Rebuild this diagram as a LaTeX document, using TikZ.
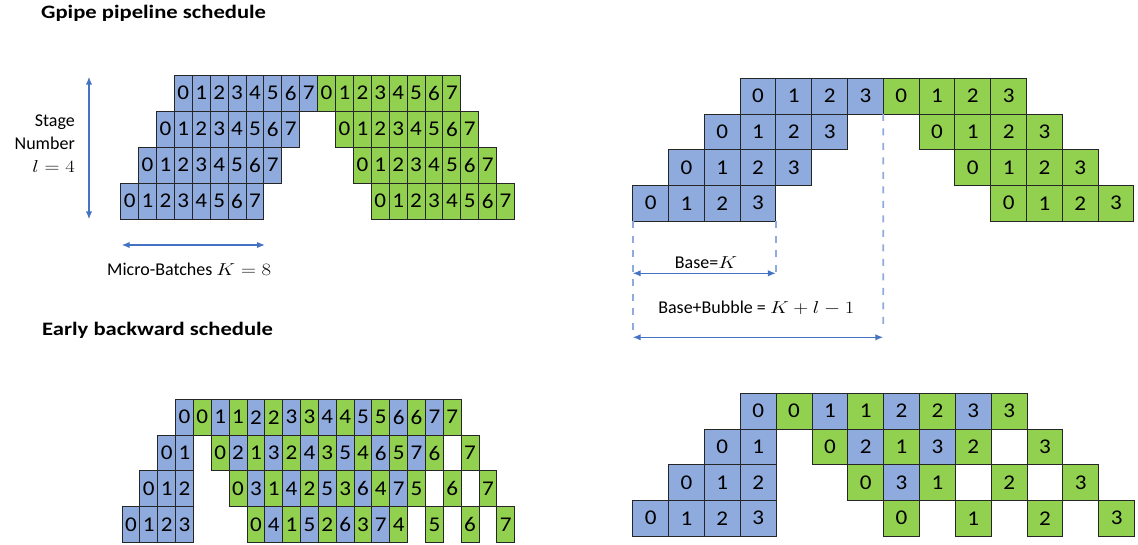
\documentclass[tikz,border=0pt]{standalone}
\usepackage{fontspec}
\setmainfont{Carlito}
\usetikzlibrary{arrows.meta}
\definecolor{cblue}{HTML}{8FAADC}
\definecolor{cgreen}{HTML}{92D050}
\definecolor{abl}{HTML}{4472C4}
\definecolor{dsh}{HTML}{8FAADC}
\newcommand\mth[1]{\scalebox{1.2}[1]{$#1$}}
\newcommand\dg[1]{\scalebox{1.1}[1]{#1}}
\newcommand\ttl[1]{\scalebox{1.19}[1]{#1}}
\tikzset{
  cell/.style={draw=black!85, line width=0.9pt, anchor=north west, inner sep=0pt, outer sep=0pt,
    font=\fontsize{21}{21}\selectfont},
  dimarrow/.style={abl, line width=1.5pt, {Latex[length=8pt,width=6.5pt]}-{Latex[length=8pt,width=6.5pt]}},
  dashline/.style={dsh, line width=1.8pt, dash pattern=on 7pt off 7.5pt},
  title/.style={font=\bfseries\fontsize{19}{19}\selectfont, anchor=base west, inner sep=0pt},
  lbl/.style={font=\fontsize{18}{23}\selectfont, inner sep=0pt}
}
% #1 prefix, #2 x0, #3 y0, #4 w, #5 h, #6 list col/row/colour/text
\newcommand\drawgrid[6]{%
  \foreach \c/\r/\k/\t in {#6}{%
    \node[cell, fill=\k, minimum width=#4pt, minimum height=#5pt] (#1-\r-\c) at ({#2+\c*#4},{#3+\r*#5}) {\dg{\t}};
  }}
\begin{document}
\begin{tikzpicture}[x=1pt,y=-1pt]
\useasboundingbox (0,0) rectangle (1138,545);

% titles
\node[title] (t1) at (41,19) {\ttl{Gpipe pipeline schedule}};
\node[title] (t2) at (42,336) {\ttl{Early backward schedule}};

% ---- Gpipe, K=8
\foreach \r in {0,...,3}{\foreach \j in {0,...,7}{%
  \pgfmathtruncatemacro\cb{3-\r+\j}%
  \pgfmathtruncatemacro\cg{11+\r+\j}%
  \node[cell, fill=cblue, minimum width=17.9pt, minimum height=36pt] (tl-\r-\cb) at ({120.7+\cb*17.9},{75+\r*36}) {\dg{\j}};
  \node[cell, fill=cgreen, minimum width=17.9pt, minimum height=36pt] (tl-\r-\cg) at ({120.7+\cg*17.9},{75+\r*36}) {\dg{\j}};
}}

% ---- Gpipe, K=4
\foreach \r in {0,...,3}{\foreach \j in {0,...,3}{%
  \pgfmathtruncatemacro\cb{3-\r+\j}%
  \pgfmathtruncatemacro\cg{7+\r+\j}%
  \node[cell, fill=cblue, minimum width=35.8pt, minimum height=35.7pt] (tr-\r-\cb) at ({632.7+\cb*35.8},{78.3+\r*35.7}) {\dg{\j}};
  \node[cell, fill=cgreen, minimum width=35.8pt, minimum height=35.7pt] (tr-\r-\cg) at ({632.7+\cg*35.8},{78.3+\r*35.7}) {\dg{\j}};
}}

% ---- Early backward, K=8
\drawgrid{bl}{122}{399.3}{17.85}{35.8}{
  3/0/cblue/0,4/0/cgreen/0,5/0/cblue/1,6/0/cgreen/1,7/0/cblue/2,8/0/cgreen/2,9/0/cblue/3,10/0/cgreen/3,
  11/0/cblue/4,12/0/cgreen/4,13/0/cblue/5,14/0/cgreen/5,15/0/cblue/6,16/0/cgreen/6,17/0/cblue/7,18/0/cgreen/7,
  2/1/cblue/0,3/1/cblue/1,5/1/cgreen/0,6/1/cblue/2,7/1/cgreen/1,8/1/cblue/3,9/1/cgreen/2,10/1/cblue/4,
  11/1/cgreen/3,12/1/cblue/5,13/1/cgreen/4,14/1/cblue/6,15/1/cgreen/5,16/1/cblue/7,17/1/cgreen/6,19/1/cgreen/7,
  1/2/cblue/0,2/2/cblue/1,3/2/cblue/2,6/2/cgreen/0,7/2/cblue/3,8/2/cgreen/1,9/2/cblue/4,10/2/cgreen/2,
  11/2/cblue/5,12/2/cgreen/3,13/2/cblue/6,14/2/cgreen/4,15/2/cblue/7,16/2/cgreen/5,18/2/cgreen/6,20/2/cgreen/7,
  0/3/cblue/0,1/3/cblue/1,2/3/cblue/2,3/3/cblue/3,7/3/cgreen/0,8/3/cblue/4,9/3/cgreen/1,10/3/cblue/5,
  11/3/cgreen/2,12/3/cblue/6,13/3/cgreen/3,14/3/cblue/7,15/3/cgreen/4,17/3/cgreen/5,19/3/cgreen/6,21/3/cgreen/7}

% ---- Early backward, K=4
\drawgrid{br}{632.7}{393.3}{35.85}{35.7}{
  3/0/cblue/0,4/0/cgreen/0,5/0/cblue/1,6/0/cgreen/1,7/0/cblue/2,8/0/cgreen/2,9/0/cblue/3,10/0/cgreen/3,
  2/1/cblue/0,3/1/cblue/1,5/1/cgreen/0,6/1/cblue/2,7/1/cgreen/1,8/1/cblue/3,9/1/cgreen/2,11/1/cgreen/3,
  1/2/cblue/0,2/2/cblue/1,3/2/cblue/2,6/2/cgreen/0,7/2/cblue/3,8/2/cgreen/1,10/2/cgreen/2,12/2/cgreen/3,
  0/3/cblue/0,1/3/cblue/1,2/3/cblue/2,3/3/cblue/3,7/3/cgreen/0,9/3/cgreen/1,11/3/cgreen/2,13/3/cgreen/3}

% ---- stage arrow and label
\coordinate (sA) at (89,76.7);
\coordinate (sB) at (89,219.3);
\draw[dimarrow] (sA) -- (sB);
\node[lbl, align=right, anchor=base east] (stage) at (75,173) {Stage\\Number\\\mth{l=4}};

% ---- micro-batches arrow and label
\coordinate (mA) at (121.7,245);
\coordinate (mB) at (265,245);
\draw[dimarrow] (mA) -- (mB);
\node[lbl, anchor=base] (mb) at (189.2,275.7) {Micro-Batches \mth{K=8}};

% ---- dashed guides
\coordinate (d1) at (632.7,330);
\coordinate (d2) at (775.9,278);
\coordinate (d3) at (883.3,330);
\draw[dashline] (tr-3-0.south west) -- (d1);
\draw[dashline] (tr-3-3.south east) -- (d2);
\draw[dashline] (tr-0-7.south west) -- (d3);

% ---- base arrows
\coordinate (bA) at (632.7,273.3);
\coordinate (bB) at (775.9,273.3);
\draw[dimarrow] (bA) -- (bB);
\node[lbl, anchor=base] (base) at (706,268.3) {Base=\mth{K}};
\coordinate (cA) at (632.7,337.3);
\coordinate (cB) at (883.3,337.3);
\draw[dimarrow] (cA) -- (cB);
\node[lbl, anchor=base] (bubble) at (756.3,313.3) {Base+Bubble = \mth{K+l-1}};
\end{tikzpicture}
\end{document}
